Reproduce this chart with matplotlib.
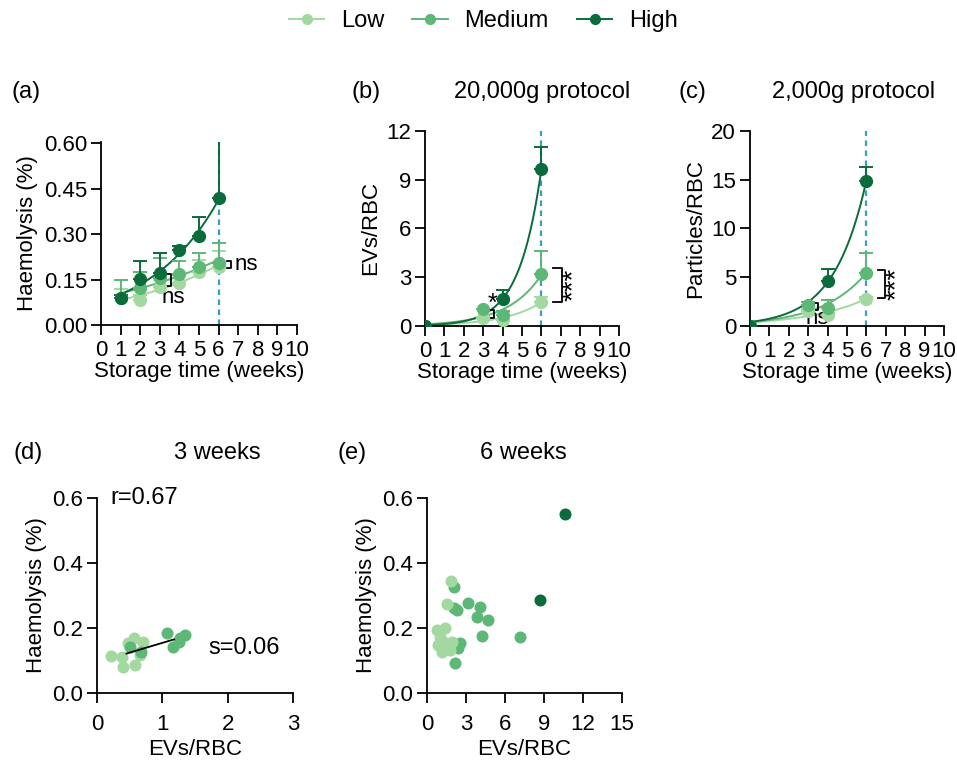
import numpy as np
import matplotlib.pyplot as plt
from matplotlib.lines import Line2D

plt.rcParams['font.family'] = ['Liberation Sans', 'DejaVu Sans']
plt.rcParams['font.size'] = 16

C_LOW = '#a3d9a0'
C_MED = '#5db777'
C_HIGH = '#0b6b3a'
C_REF = '#3aa0b8'

# (a) haemolysis (%) vs storage week; *_up is the top of each error bar
weeks_a = [1, 2, 3, 4, 5, 6]
haem_low = [0.088, 0.083, 0.124, 0.138, 0.176, 0.193]
haem_low_up = [0.12, 0.10, 0.15, 0.165, 0.215, 0.245]
haem_med = [0.088, 0.121, 0.154, 0.168, 0.193, 0.206]
haem_med_up = [0.149, 0.174, 0.22, 0.213, 0.237, 0.27]
haem_high = [0.088, 0.152, 0.171, 0.248, 0.295, 0.42]
haem_high_up = [0.10, 0.213, 0.237, 0.26, 0.358, 0.608]

# (b) EVs per RBC, 20,000g protocol
weeks_b = [0, 3, 4, 6]
weeks_b_high = [0, 4, 6]
ev_low = [0.0, 0.51, 0.35, 1.48]
ev_low_up = [0.0, 0.55, 0.42, 1.79]
ev_med = [0.0, 1.03, 0.66, 3.18]
ev_med_up = [0.0, 1.05, 0.9, 4.6]
ev_high = [0.0, 1.68, 9.66]
ev_high_up = [0.0, 2.2, 11.0]

# (c) particles per RBC, 2,000g protocol
part_low = [0.0, 1.54, 1.16, 2.8]
part_low_up = [0.0, 1.7, 1.3, 2.95]
part_med = [0.0, 2.12, 1.88, 5.48]
part_med_up = [0.0, 2.5, 2.7, 7.5]
part_high = [0.0, 4.62, 14.9]
part_high_up = [0.0, 5.8, 16.3]

# (d) 3 weeks: EVs/RBC vs haemolysis
d_low_x = [0.21, 0.38, 0.40, 0.58, 0.56, 0.71, 0.66, 0.48]
d_low_y = [0.114, 0.112, 0.081, 0.086, 0.168, 0.158, 0.117, 0.153]
d_med_x = [0.505, 0.68, 1.07, 1.17, 1.25, 1.34, 1.27]
d_med_y = [0.142, 0.127, 0.184, 0.142, 0.158, 0.178, 0.168]
d_r = 0.67
d_slope = 0.06
d_fit_range = [0.45, 1.18]

# (e) 6 weeks: EVs/RBC vs haemolysis
e_low_x = [1.85, 1.51, 0.74, 1.38, 1.0, 1.38, 1.13, 1.77, 1.9, 0.87]
e_low_y = [0.346, 0.273, 0.194, 0.199, 0.173, 0.153, 0.127, 0.132, 0.158, 0.148]
e_med_x = [2.1, 2.28, 2.1, 3.18, 4.08, 3.82, 4.72, 4.2, 7.15, 2.54, 2.4, 2.15]
e_med_y = [0.325, 0.255, 0.26, 0.276, 0.266, 0.235, 0.225, 0.175, 0.173, 0.153, 0.138, 0.092]
e_high_x = [10.6, 8.7]
e_high_y = [0.552, 0.287]


def exp_fit(x, y):
    # least squares y = a*exp(b*x), scanning b
    x = np.asarray(x, float)
    y = np.asarray(y, float)
    best = None
    for b in np.linspace(0.01, 1.5, 800):
        e = np.exp(b * x)
        a = (y @ e) / (e @ e)
        sse = ((y - a * e) ** 2).sum()
        if best is None or sse < best[0]:
            best = (sse, a, b)
    return best[1], best[2]


def style(ax, xpad=4):
    for s in ['top', 'right']:
        ax.spines[s].set_visible(False)
    for s in ['left', 'bottom']:
        ax.spines[s].set_linewidth(1.3)
    ax.tick_params(direction='out', length=7, width=1.3, labelsize=16, pad=3)
    ax.tick_params(axis='x', pad=xpad)


def time_panel(ax, series, ylim, yticks, ylabel):
    for x, mean, up, c in series:
        a, b = exp_fit(x, mean)
        xx = np.linspace(min(x), max(x), 200)
        ax.plot(xx, a * np.exp(b * xx), color=c, lw=1.4, zorder=2)
        err = np.array(up) - np.array(mean)
        ax.errorbar(x, mean, yerr=[np.zeros(len(x)), err], fmt='o', color=c,
                    ms=8.5, capsize=5, elinewidth=1.4, capthick=1.4, zorder=3)
    ax.axvline(6, color=C_REF, ls=(0, (2.5, 2)), lw=1.6, zorder=1)
    ax.set_xlim(0, 10)
    ax.set_xticks(range(11))
    ax.set_ylim(*ylim)
    ax.set_yticks(yticks)
    ax.set_xlabel('Storage time (weeks)', fontsize=16, labelpad=0)
    ax.set_ylabel(ylabel, fontsize=16, labelpad=4)
    style(ax)


def bracket(ax, x0, x1, y0, y1):
    ax.plot([x0, x1, x1, x0], [y1, y1, y0, y0], color='k', lw=1.3, clip_on=False)


fig = plt.figure(figsize=(9.57, 7.62), dpi=100)

ax_a = fig.add_axes([0.1055, 0.5735, 0.2048, 0.2402])
time_panel(ax_a, [(weeks_a, haem_low, haem_low_up, C_LOW),
                  (weeks_a, haem_med, haem_med_up, C_MED),
                  (weeks_a, haem_high, haem_high_up, C_HIGH)],
           (0, 0.605), [0, 0.15, 0.30, 0.45, 0.60], 'Haemolysis (%)')
ax_a.set_yticklabels(['0.00', '0.15', '0.30', '0.45', '0.60'])
bracket(ax_a, 3.35, 3.55, 0.128, 0.17)
ax_a.text(3.7, 0.09, 'ns', ha='center', va='center', fontsize=16)
bracket(ax_a, 6.45, 6.65, 0.19, 0.21)
ax_a.text(6.8, 0.2, 'ns', ha='left', va='center', fontsize=16)

ax_b = fig.add_axes([0.4441, 0.5722, 0.2027, 0.2559])
time_panel(ax_b, [(weeks_b, ev_low, ev_low_up, C_LOW),
                  (weeks_b, ev_med, ev_med_up, C_MED),
                  (weeks_b_high, ev_high, ev_high_up, C_HIGH)],
           (0, 12), [0, 3, 6, 9, 12], 'EVs/RBC')
bracket(ax_b, 3.35, 3.55, 0.5, 1.0)
ax_b.text(3.5, 1.35, '*', ha='center', va='center', fontsize=18)
bracket(ax_b, 6.6, 7.05, 1.48, 3.57)
ax_b.text(7.65, 2.5, '***', ha='center', va='center', rotation=90, fontsize=20)

ax_c = fig.add_axes([0.7837, 0.5722, 0.2027, 0.2559])
time_panel(ax_c, [(weeks_b, part_low, part_low_up, C_LOW),
                  (weeks_b, part_med, part_med_up, C_MED),
                  (weeks_b_high, part_high, part_high_up, C_HIGH)],
           (0, 20), [0, 5, 10, 15, 20], 'Particles/RBC')
bracket(ax_c, 3.3, 3.5, 1.64, 2.36)
ax_c.text(3.45, 0.75, 'ns', ha='center', va='center', fontsize=16)
bracket(ax_c, 6.6, 6.96, 2.87, 5.74)
ax_c.text(7.55, 4.3, '***', ha='center', va='center', rotation=90, fontsize=20)

fig.text(0.027, 0.879, '(a)', ha='center', va='center', fontsize=17)
fig.text(0.383, 0.879, '(b)', ha='center', va='center', fontsize=17)
fig.text(0.566, 0.879, '20,000g protocol', ha='center', va='center', fontsize=17)
fig.text(0.724, 0.879, '(c)', ha='center', va='center', fontsize=17)
fig.text(0.892, 0.879, '2,000g protocol', ha='center', va='center', fontsize=17)

# scatter panels
ax_d = fig.add_axes([0.1014, 0.0906, 0.2048, 0.2559])
ax_d.scatter(d_low_x, d_low_y, s=75, color=C_LOW, linewidths=0, zorder=2)
ax_d.scatter(d_med_x, d_med_y, s=75, color=C_MED, linewidths=0, zorder=3)
icpt = np.mean(d_low_y + d_med_y) - d_slope * np.mean(d_low_x + d_med_x)
fx = np.array(d_fit_range)
ax_d.plot(fx, icpt + d_slope * fx, color='k', lw=1.3, zorder=4)
ax_d.text(0.2, 0.6, f'r={d_r:.2f}', ha='left', va='center', fontsize=17)
ax_d.text(1.7, 0.138, f's={d_slope:.2f}', ha='left', va='center', fontsize=17)
ax_d.set_xlim(0, 3)
ax_d.set_xticks([0, 1, 2, 3])
ax_d.set_ylim(0, 0.6)
ax_d.set_yticks([0, 0.2, 0.4, 0.6])
ax_d.set_yticklabels(['0.0', '0.2', '0.4', '0.6'])
ax_d.set_xlabel('EVs/RBC', fontsize=16, labelpad=3)
ax_d.set_ylabel('Haemolysis (%)', fontsize=16, labelpad=4)
style(ax_d, xpad=8)

ax_e = fig.add_axes([0.4462, 0.0906, 0.2038, 0.2559])
ax_e.scatter(e_high_x, e_high_y, s=75, color=C_HIGH, linewidths=0, zorder=2)
ax_e.scatter(e_med_x, e_med_y, s=75, color=C_MED, linewidths=0, zorder=2)
ax_e.scatter(e_low_x, e_low_y, s=75, color=C_LOW, linewidths=0, zorder=3)
ax_e.set_xlim(0, 15)
ax_e.set_xticks([0, 3, 6, 9, 12, 15])
ax_e.set_ylim(0, 0.6)
ax_e.set_yticks([0, 0.2, 0.4, 0.6])
ax_e.set_yticklabels(['0.0', '0.2', '0.4', '0.6'])
ax_e.set_xlabel('EVs/RBC', fontsize=16, labelpad=3)
ax_e.set_ylabel('Haemolysis (%)', fontsize=16, labelpad=4)
style(ax_e, xpad=8)

fig.text(0.029, 0.405, '(d)', ha='center', va='center', fontsize=17)
fig.text(0.227, 0.405, '3 weeks', ha='center', va='center', fontsize=17)
fig.text(0.368, 0.405, '(e)', ha='center', va='center', fontsize=17)
fig.text(0.547, 0.405, '6 weeks', ha='center', va='center', fontsize=17)

handles = [Line2D([], [], color=c, marker='o', ms=7, lw=1.4)
           for c in [C_LOW, C_MED, C_HIGH]]
fig.legend(handles, ['Low', 'Medium', 'High'], loc='center', bbox_to_anchor=(0.505, 0.972),
           ncol=3, frameon=False, fontsize=17, handlelength=1.5, columnspacing=1.2,
           handletextpad=0.7)

fig.savefig('out.png', dpi=100)
